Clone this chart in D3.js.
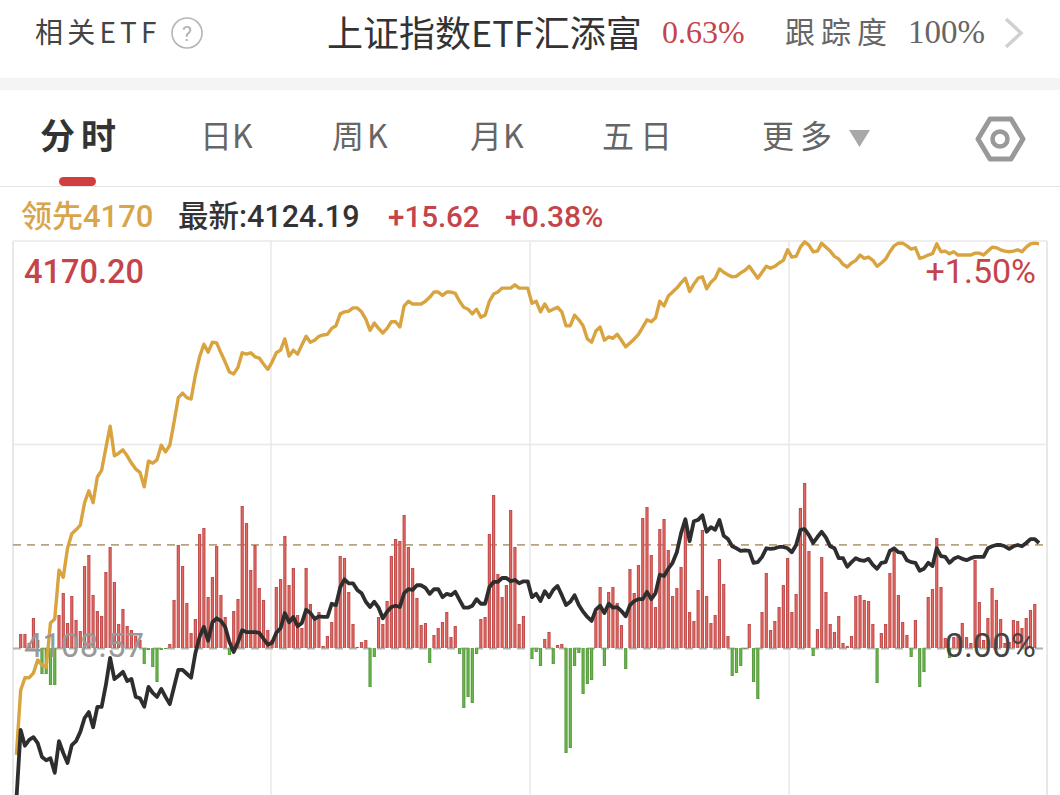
<!DOCTYPE html>
<html lang="zh"><head><meta charset="utf-8">
<style>html,body{margin:0;padding:0;background:#fff;overflow:hidden}svg{display:block}</style>
<script src="https://cdn.jsdelivr.net/npm/d3@7/dist/d3.min.js"></script></head><body>
<div id="c"></div>
<script>
const prevClose = 4108.57, maxChange = 61.63, latestChange = 15.62;
const tabs = ["日K","周K","月K","五日","更多"];
// points above the previous close, one per minute
const leaderChange = [
-16.2,-6.4,-4.5,-4.5,-3.8,-1.8,-2.6,-2.9,3.8,4.4,
11.8,10.7,15.1,17.3,17.9,18.6,22.0,23.8,22.0,25.9,
26.9,30.3,33.6,29.1,29.5,30.0,29.1,28.0,27.1,26.6,
24.4,28.3,28.0,28.5,30.7,29.7,30.7,34.2,37.9,38.6,
37.9,37.7,41.3,44.1,46.0,44.8,46.3,46.2,44.7,43.3,
41.8,41.5,42.5,44.7,44.5,44.7,44.1,43.9,43.0,42.2,
43.3,44.7,45.1,46.8,44.2,45.1,44.5,45.9,47.2,46.3,
46.6,47.2,47.4,47.5,48.4,48.8,50.6,50.9,51.0,51.5,
51.5,50.9,49.8,48.1,49.2,48.4,47.7,48.4,49.4,49.4,
48.6,51.8,52.5,52.1,52.1,52.1,52.5,53.1,53.9,53.9,
53.4,53.9,53.9,53.7,52.5,51.6,51.3,50.6,51.3,50.1,
50.4,52.5,53.6,53.9,54.5,54.5,54.5,55.0,54.5,54.5,
54.5,52.2,52.5,50.9,52.1,51.0,51.3,51.6,50.9,48.8,
48.8,50.4,49.7,48.8,46.8,46.3,48.0,48.6,46.6,47.1,
46.9,47.5,46.6,45.6,46.2,46.8,47.5,48.6,49.7,49.4,
50.0,52.5,51.8,53.3,53.9,54.5,55.3,56.0,54.0,55.1,
56.0,56.2,54.4,55.4,56.0,57.4,56.9,56.5,56.2,56.3,
56.8,57.2,57.8,56.9,56.0,56.9,57.8,57.5,57.8,58.3,
58.7,60.3,59.2,59.3,60.7,61.5,61.0,60.0,60.1,61.3,
60.7,60.1,59.3,58.9,58.1,57.7,58.3,58.7,59.5,59.0,
59.2,58.7,57.8,58.3,58.9,60.0,60.9,61.3,61.3,60.9,
60.4,60.6,59.0,59.2,59.5,59.7,61.2,60.0,60.1,59.7,
60.0,59.5,59.5,59.5,59.5,59.8,59.8,59.5,60.1,60.7,
60.6,60.3,60.1,60.0,60.1,60.3,60.0,60.7,61.2,61.3,61.2];
const priceChange = [
-23.0,-12.4,-14.8,-13.9,-13.5,-14.4,-16.5,-17.0,-16.7,-18.9,
-14.1,-15.9,-17.4,-14.7,-14.1,-12.7,-10.6,-9.7,-12.0,-8.9,
-8.9,-5.6,-1.5,-4.7,-4.2,-3.6,-5.0,-4.7,-7.4,-7.6,
-8.9,-5.9,-6.8,-7.4,-6.2,-7.4,-8.5,-5.9,-3.3,-3.3,
-3.9,-4.5,-0.8,1.7,3.2,1.1,3.9,4.5,4.1,3.2,
0.9,-0.6,0.9,2.7,2.4,2.4,2.4,2.3,1.4,0.5,
0.8,2.3,3.0,5.3,3.9,4.7,3.3,3.8,5.8,5.3,
4.4,4.8,4.7,4.7,6.7,6.5,9.2,10.4,9.8,9.8,
8.8,8.3,7.0,6.2,7.0,6.1,4.5,5.5,6.2,6.4,
6.2,8.3,8.9,8.8,9.5,9.5,9.1,8.2,8.9,8.9,
7.7,8.2,8.0,8.5,7.3,6.1,6.1,6.4,7.4,6.7,
6.7,9.2,10.0,10.0,10.6,10.6,10.1,10.3,9.8,10.1,
10.1,7.7,8.2,7.1,8.6,7.7,8.8,9.4,8.0,6.5,
7.0,8.0,6.5,5.5,4.7,4.1,5.8,6.4,5.3,6.7,
6.1,6.2,5.6,4.8,6.5,7.1,7.4,7.4,8.5,7.4,
8.3,11.1,10.9,12.0,12.9,14.5,17.4,19.5,16.2,19.2,
19.4,20.1,17.6,18.3,17.9,19.4,17.0,16.5,15.4,15.1,
14.7,14.8,14.7,12.9,13.0,13.8,15.1,15.0,15.1,15.3,
15.3,15.1,14.5,15.6,17.9,18.0,17.1,15.9,16.8,17.6,
16.7,15.4,15.1,13.6,13.6,12.3,13.0,13.6,13.3,13.2,
13.5,12.6,12.0,12.9,13.0,14.7,15.1,14.5,14.4,13.3,
13.0,12.9,11.7,12.0,12.9,12.4,15.1,13.9,13.8,12.9,
13.5,13.8,13.5,13.3,13.6,13.8,13.8,13.8,15.1,15.4,
15.6,15.6,15.4,15.0,15.4,15.6,15.4,15.9,16.5,16.5,15.9];
// relative net volume per minute (+ buy, - sell)
const netVolume = [
0,14,14,5,30,8,-26,-26,-37,-37,
33,55,25,52,28,17,82,93,53,37,
32,76,101,66,24,39,22,18,12,8,
-16,-2,-19,-34,-2,-1,4,48,103,82,
45,15,29,114,120,51,71,102,53,31,
-7,37,49,142,125,78,103,60,48,18,
8,61,69,112,63,80,33,20,80,44,
31,36,2,12,26,42,92,90,56,24,
1,6,8,-39,-9,31,24,47,92,109,
107,133,101,80,50,23,25,-15,13,20,
26,36,11,22,-6,-60,-49,-55,-6,29,
31,114,153,74,51,63,138,101,24,32,
0,-11,-4,-18,9,16,-16,3,4,-105,
-100,-18,-5,-46,-36,-32,36,61,-18,56,
61,45,23,-21,79,55,83,130,141,93,
41,119,129,98,52,60,81,128,36,27,
58,118,52,25,33,89,64,12,-28,-25,
-18,-1,24,-34,-51,36,75,18,27,41,
63,90,36,54,140,165,97,-8,19,91,
56,24,16,32,5,2,12,52,53,48,
47,24,-35,15,24,75,98,53,26,13,
-9,28,-39,-24,51,59,110,61,10,-10,
11,14,25,11,5,88,46,8,30,60,
48,29,5,6,28,27,20,30,38,44];

const W=1060,H=795;
const RED="#c4444a",GOLD="#d9a33f",CJK="'Noto Sans CJK SC','Noto Sans',sans-serif",NUM="Roboto,sans-serif";
const svg=d3.select("#c").append("svg").attr("width",W).attr("height",H);
const x=d3.scaleLinear().domain([0,240]).range([16.4,1039]);
const y=d3.scaleLinear().domain([0,maxChange]).range([648,241]);
const yv=d3.scaleLinear().domain([-105,165]).range([753,483]);

function label(s,px,py,size,fill,opt={}){
  return svg.append("text").text(s).attr("x",px).attr("y",py)
   .attr("font-size",size).attr("fill",fill)
   .attr("font-family",opt.f||CJK).attr("font-weight",opt.w||400)
   .attr("letter-spacing",opt.ls||0).attr("text-anchor",opt.a||"start");
}
// header
label("相关ETF",35,43,28,"#444",{ls:4.2});
svg.append("circle").attr("cx",187).attr("cy",33).attr("r",15).attr("fill","none").attr("stroke","#b5b5b5").attr("stroke-width",1.6);
label("?",187,41,21,"#b0b0b0",{a:"middle",f:NUM});
label("上证指数ETF汇添富",327,47,36,"#333");
label("0.63%",662,43,32,RED,{f:"'Liberation Serif',serif"});
label("跟踪度",785,43,30,"#666",{ls:6});
label("100%",908,43,33,"#666",{f:"'Liberation Serif',serif"});
svg.append("path").attr("d",d3.line()([[1006,19],[1021,33],[1006,47]])).attr("fill","none").attr("stroke","#d0d0d0").attr("stroke-width",3.5);
svg.append("rect").attr("x",0).attr("y",78).attr("width",W).attr("height",12).attr("fill","#f4f4f4");
// tabs
label("分时",40,149,35,"#333",{w:700,ls:6});
const tabX=[200,332,470,602,762], tabLs=[0,3,1,6,6];
tabs.forEach((t,i)=>label(t,tabX[i],148,32,"#666",{ls:tabLs[i]}));
svg.append("path").attr("d","M849,130L870,130L859.5,147Z").attr("fill","#a8a8a8");
svg.append("path").attr("d",d3.line().curve(d3.curveLinearClosed)([[978,139],[990,119],[1011,119],[1023,139],[1011,159],[990,159]]))
  .attr("fill","none").attr("stroke","#999").attr("stroke-width",5).attr("stroke-linejoin","round");
svg.append("circle").attr("cx",1000).attr("cy",139).attr("r",7.5).attr("fill","none").attr("stroke","#999").attr("stroke-width",4.5);
svg.append("rect").attr("x",59).attr("y",177).attr("width",37).attr("height",9).attr("rx",4.5).attr("fill","#d03f3f");
svg.append("line").attr("x1",0).attr("x2",W).attr("y1",186.5).attr("y2",186.5).attr("stroke","#e4e4e4");
// info row
label("领先4170",21,227,31,"#d8a54c",{f:NUM+","+CJK,w:500});
label("最新:4124.19",178,227,30.5,"#333",{f:NUM+","+CJK,w:500});
label("+15.62",388,227,29.5,RED,{f:NUM,w:500});
label("+0.38%",505,227,30,RED,{f:NUM,w:500});
// grid
const G="#e8e8e8";
[13,271,530,789,1047].forEach(v=>svg.append("line").attr("x1",v).attr("x2",v).attr("y1",241).attr("y2",H).attr("stroke",G).attr("stroke-width",v===13||v===1047?2:1.5));
[maxChange,maxChange/2].forEach(v=>svg.append("line").attr("x1",13).attr("x2",1047).attr("y1",y(v)).attr("y2",y(v)).attr("stroke",G).attr("stroke-width",1.5));
svg.append("line").attr("x1",13).attr("x2",1047).attr("y1",y(0)+.5).attr("y2",y(0)+.5).attr("stroke","#b5b0a8").attr("stroke-width",2).attr("stroke-dasharray","8 6");
svg.append("line").attr("x1",13).attr("x2",1047).attr("y1",y(latestChange)).attr("y2",y(latestChange)).attr("stroke","#b8a280").attr("stroke-width",1.6).attr("stroke-dasharray","8 6");
// bars
svg.append("g").selectAll("rect").data(netVolume).join("rect")
 .attr("x",(d,i)=>x(i)-1.6).attr("width",3.2)
 .attr("y",d=>d>=0?yv(d):yv(0)).attr("height",d=>Math.abs(yv(d)-yv(0)))
 .attr("fill",d=>d>=0?"#c24d4c":"#5a9c40");
svg.append("g").selectAll("rect").data(netVolume).join("rect")
 .attr("x",(d,i)=>x(i)-0.5).attr("width",1)
 .attr("y",d=>d>=0?yv(d)+1:yv(0)).attr("height",d=>Math.max(0,Math.abs(yv(d)-yv(0))-1))
 .attr("fill",d=>d>=0?"#e66e66":"#6cbc4e");
// lines
const pathOf=d3.line().x((d,i)=>x(i)).y(d=>y(d));
svg.append("path").attr("d",pathOf(leaderChange)).attr("fill","none").attr("stroke",GOLD).attr("stroke-width",3.4).attr("stroke-linejoin","round");
svg.append("path").attr("d",pathOf(priceChange)).attr("fill","none").attr("stroke","#2e2e2e").attr("stroke-width",3.8).attr("stroke-linejoin","round");
// axis labels
label((prevClose+maxChange).toFixed(2),24,283,32.5,RED,{f:NUM,w:500});
label("+"+(maxChange/prevClose*100).toFixed(2)+"%",1036,283,34,RED,{f:NUM,a:"end"});
label(prevClose.toFixed(2),24,657,33,"#999",{f:NUM});
label("0.00%",1036,657,34,"#444",{f:NUM,a:"end"});
</script></body></html>
